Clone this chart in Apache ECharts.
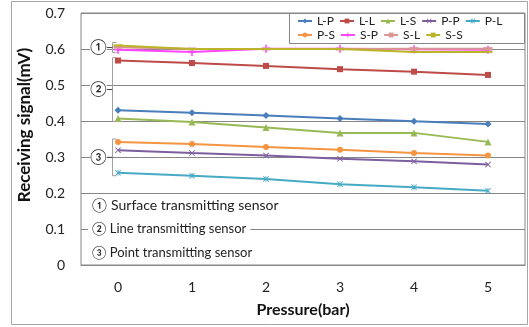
<!DOCTYPE html>
<html>
<head>
<meta charset="utf-8">
<script src="https://cdn.jsdelivr.net/npm/echarts@6/dist/echarts.min.js"></script>
<style>
  html, body { margin: 0; padding: 0; background: #fff; }
  #chart { width: 529px; height: 327px; }
</style>
</head>
<body>
<div id="chart"></div>
<script>
// x categories (bar)
const pressures = ['0', '1', '2', '3', '4', '5'];
// y ticks (mV)
const yTickValues = [0, 0.1, 0.2, 0.3, 0.4, 0.5, 0.6, 0.7];

const seriesNames = ['L-P', 'L-L', 'L-S', 'P-P', 'P-L', 'P-S', 'S-P', 'S-L', 'S-S'];
const lpValues = [0.430, 0.423, 0.415, 0.407, 0.399, 0.392];
const llValues = [0.568, 0.561, 0.553, 0.544, 0.537, 0.528];
const lsValues = [0.407, 0.397, 0.382, 0.367, 0.367, 0.342];
const ppValues = [0.319, 0.311, 0.304, 0.295, 0.288, 0.279];
const plValues = [0.256, 0.248, 0.239, 0.224, 0.216, 0.206];
const psValues = [0.342, 0.336, 0.328, 0.320, 0.311, 0.304];
const spValues = [0.598, 0.592, 0.601, 0.601, 0.599, 0.598];
const slValues = [0.605, 0.600, 0.600, 0.600, 0.601, 0.601];
const ssValues = [0.610, 0.600, 0.600, 0.600, 0.592, 0.592];

// sensor groups marked with brackets at the left
const groupLabels = ['①', '②', '③'];
const groupMembers = [['S-P', 'S-L', 'S-S'], ['L-P', 'L-L', 'L-S'], ['P-P', 'P-L', 'P-S']];
const noteLines = ['① Surface transmitting sensor', '② Line transmitting sensor', '③ Point transmitting sensor'];

const FONT = 'Lato, "Open Sans", sans-serif';
const PLUS = 'path://M4,0h2v4h4v2h-4v4h-2v-4h-4v-2h4z';
const CROSS = 'path://M1,0L5,4L9,0L10,1L6,5L10,9L9,10L5,6L1,10L0,9L4,5L0,1Z';
const STAR = 'path://M1,0L5,4L9,0L10,1L6,5L10,9L9,10L5,6L1,10L0,9L4,5L0,1Z M4.4,0h1.2v10h-1.2z';

const valuesByName = {
  'L-P': lpValues, 'L-L': llValues, 'L-S': lsValues,
  'P-P': ppValues, 'P-L': plValues, 'P-S': psValues,
  'S-P': spValues, 'S-L': slValues, 'S-S': ssValues,
};
const looks = {
  'L-P': { color: '#4a7ebb', symbol: 'diamond', size: 7 },
  'L-L': { color: '#be4b48', symbol: 'rect', size: 6 },
  'L-S': { color: '#98b954', symbol: 'triangle', size: 7 },
  'P-P': { color: '#7d5fa0', symbol: CROSS, size: 6 },
  'P-L': { color: '#46aac5', symbol: STAR, size: 6 },
  'P-S': { color: '#f59542', symbol: 'circle', size: 6 },
  'S-P': { color: '#ff47ff', symbol: PLUS, size: 8 },
  'S-L': { color: '#d99694', symbol: 'rect', size: [9, 3] },
  'S-S': { color: '#bcb428', symbol: 'rect', size: [9, 2] },
};

const chart = echarts.init(document.getElementById('chart'));

const series = seriesNames.map(name => ({
  name: name,
  type: 'line',
  data: valuesByName[name],
  symbol: looks[name].symbol,
  symbolSize: looks[name].size,
  showAllSymbol: true,
  animation: false,
  lineStyle: { color: looks[name].color, width: 2 },
  itemStyle: { color: looks[name].color },
}));

// two legend rows, fixed-width labels so columns line up
const legendRow = (names, top) => ({
  data: names,
  left: 297, top: top,
  padding: 0,
  itemWidth: 14, itemHeight: 6, itemGap: 5,
  formatter: '{a|{name}}',
  textStyle: {
    fontFamily: FONT, fontSize: 12, color: '#222',
    rich: { a: { width: 27, fontFamily: FONT, fontSize: 12, color: '#222' } },
  },
});

const option = {
  animation: false,
  grid: {
    left: 81, right: 4, top: 13, bottom: 62,
    show: true, borderColor: '#868686', borderWidth: 1,
  },
  legend: [legendRow(seriesNames.slice(0, 5), 15), legendRow(seriesNames.slice(5), 29)],
  xAxis: {
    type: 'category',
    data: pressures,
    boundaryGap: true,
    axisLine: { lineStyle: { color: '#868686' } },
    axisTick: { inside: true, length: 4, lineStyle: { color: '#868686' } },
    axisLabel: { fontFamily: FONT, fontSize: 14, color: '#222', margin: 15 },
    name: 'Pressure(bar)',
    nameLocation: 'middle',
    nameGap: 37,
    nameTextStyle: { fontFamily: FONT, fontSize: 16, fontWeight: 'bold', color: '#111' },
  },
  yAxis: {
    type: 'value',
    min: yTickValues[0],
    max: yTickValues[yTickValues.length - 1],
    interval: 0.1,
    axisLine: { show: false },
    axisTick: { show: false },
    axisLabel: {
      fontFamily: FONT, fontSize: 14, color: '#222', margin: 16,
      formatter: v => (v === 0 ? '0' : v.toFixed(1)),
    },
    splitLine: { lineStyle: { color: '#868686' } },
  },
  series: series,
};
chart.setOption(option);

// annotations: brackets and circled numbers placed from the data
const graphics = [
  {
    type: 'rect', silent: true, z: 0,
    shape: { x: 11.5, y: 1.5, width: 516, height: 323 },
    style: { fill: 'none', stroke: '#a6a6a6', lineWidth: 1 },
  },
  {
    // legend box
    type: 'rect', silent: true, z: 3,
    shape: { x: 289.5, y: 13.5, width: 235, height: 30 },
    style: { fill: '#fff', stroke: '#868686', lineWidth: 1 },
  },
  {
    type: 'text', silent: true,
    x: 25, y: 125, rotation: Math.PI / 2,
    style: {
      text: 'Receiving signal(mV)', fontFamily: FONT, fontSize: 17, fontWeight: 'bold',
      fill: '#111', align: 'center', verticalAlign: 'middle',
    },
  },
];

groupMembers.forEach((members, i) => {
  const firstVals = members.map(n => valuesByName[n][0]);
  const top = chart.convertToPixel({ xAxisIndex: 0, yAxisIndex: 0 }, [0, Math.max(...firstVals) + 0.008]);
  const bot = chart.convertToPixel({ xAxisIndex: 0, yAxisIndex: 0 }, [0, Math.min(...firstVals) - 0.008]);
  const bx = Math.round(top[0] - 6) + 0.5;
  const ty = top[1], by = bot[1], my = (ty + by) / 2;
  graphics.push({
    type: 'polyline', silent: true, z: 5,
    shape: { points: [[bx + 4, ty], [bx, ty], [bx, by], [bx + 4, by]] },
    style: { fill: 'none', stroke: '#a0a0a0', lineWidth: 1 },
  });
  graphics.push({
    type: 'line', silent: true, z: 5,
    shape: { x1: bx - 8, y1: my, x2: bx, y2: my },
    style: { stroke: '#444', lineWidth: 1 },
  });
  graphics.push({
    type: 'text', silent: true, z: 6,
    x: bx - 14, y: my,
    style: {
      text: groupLabels[i], fontFamily: FONT, fontSize: 15, fill: '#222',
      align: 'center', verticalAlign: 'middle', backgroundColor: '#fff',
    },
  });
});

const noteY = [205, 229, 253];
const noteSize = [14, 13, 13];
noteLines.forEach((t, i) => {
  graphics.push({
    type: 'text', silent: true, z: 6,
    x: 88, y: noteY[i],
    style: {
      text: t, fontFamily: FONT, fontSize: noteSize[i], fill: '#222',
      align: 'left', verticalAlign: 'middle',
      backgroundColor: '#fff', padding: [2, 4, 2, 4],
    },
  });
});

chart.setOption({ graphic: graphics });
</script>
</body>
</html>
